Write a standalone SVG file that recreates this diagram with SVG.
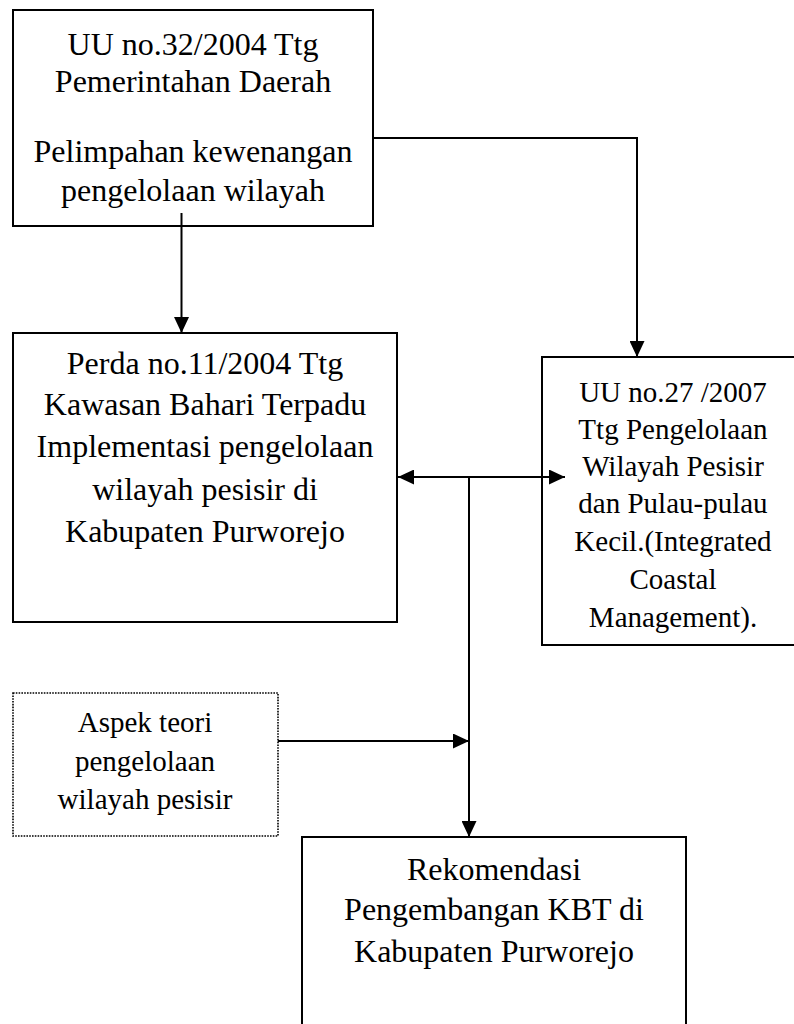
<svg xmlns="http://www.w3.org/2000/svg" width="794" height="1024" viewBox="0 0 794 1024">
<style>
.box{fill:#fff;stroke:#000;stroke-width:2}
.dot{fill:#fff;stroke:#000;stroke-width:1.6;stroke-dasharray:1.6 1.2}
.t{fill:#000;text-anchor:middle;font-family:"Liberation Serif","Times New Roman",Times,"Nimbus Roman","Tinos","DejaVu Serif",serif}
.c{fill:none;stroke:#000;stroke-width:2}
</style>
<defs>
<marker id="ah" markerUnits="userSpaceOnUse" markerWidth="16" markerHeight="15" refX="16" refY="7.5" orient="auto-start-reverse">
<path d="M0,0 L16,7.5 L0,15 z" fill="#000"/>
</marker>
</defs>
<rect width="794" height="1024" fill="#fff"/>
<g id="uu32" font-size="32">
<rect class="box" x="13" y="10" width="360" height="216"/>
<text class="t" x="193" y="55">UU no.32/2004 Ttg</text>
<text class="t" x="193" y="92">Pemerintahan Daerah</text>
<text class="t" x="193" y="162">Pelimpahan kewenangan</text>
<text class="t" x="193" y="201">pengelolaan wilayah</text>
</g>
<g id="perda" font-size="32">
<rect class="box" x="13" y="333" width="384" height="289"/>
<text class="t" x="205" y="374">Perda no.11/2004 Ttg</text>
<text class="t" x="205" y="415">Kawasan Bahari Terpadu</text>
<text class="t" x="205" y="457">Implementasi pengelolaan</text>
<text class="t" x="205" y="500">wilayah pesisir di</text>
<text class="t" x="205" y="542">Kabupaten Purworejo</text>
</g>
<g id="uu27" font-size="29">
<rect class="box" x="542" y="357" width="264" height="288"/>
<text class="t" x="673" y="402">UU no.27 /2007</text>
<text class="t" x="673" y="439">Ttg Pengelolaan</text>
<text class="t" x="673" y="476">Wilayah Pesisir</text>
<text class="t" x="673" y="513">dan Pulau-pulau</text>
<text class="t" x="673" y="551">Kecil.(Integrated</text>
<text class="t" x="673" y="589">Coastal</text>
<text class="t" x="673" y="627">Management).</text>
</g>
<g id="aspek" font-size="29">
<rect class="dot" x="13" y="693" width="265" height="143"/>
<text class="t" x="145" y="732">Aspek teori</text>
<text class="t" x="145" y="771">pengelolaan</text>
<text class="t" x="145" y="809">wilayah pesisir</text>
</g>
<g id="rekomendasi" font-size="32">
<rect class="box" x="302" y="837" width="384" height="210"/>
<text class="t" x="494" y="880">Rekomendasi</text>
<text class="t" x="494" y="920">Pengembangan KBT di</text>
<text class="t" x="494" y="962">Kabupaten Purworejo</text>
</g>
<g id="connectors">
<path class="c" d="M181.5,213 V333" marker-end="url(#ah)"/>
<path class="c" d="M373,138 H637 V357" marker-end="url(#ah)"/>
<path class="c" d="M398,477 H565" marker-start="url(#ah)" marker-end="url(#ah)"/>
<path class="c" d="M469,477 V837" marker-end="url(#ah)"/>
<path class="c" d="M278,741 H469" marker-end="url(#ah)"/>
</g>
</svg>
